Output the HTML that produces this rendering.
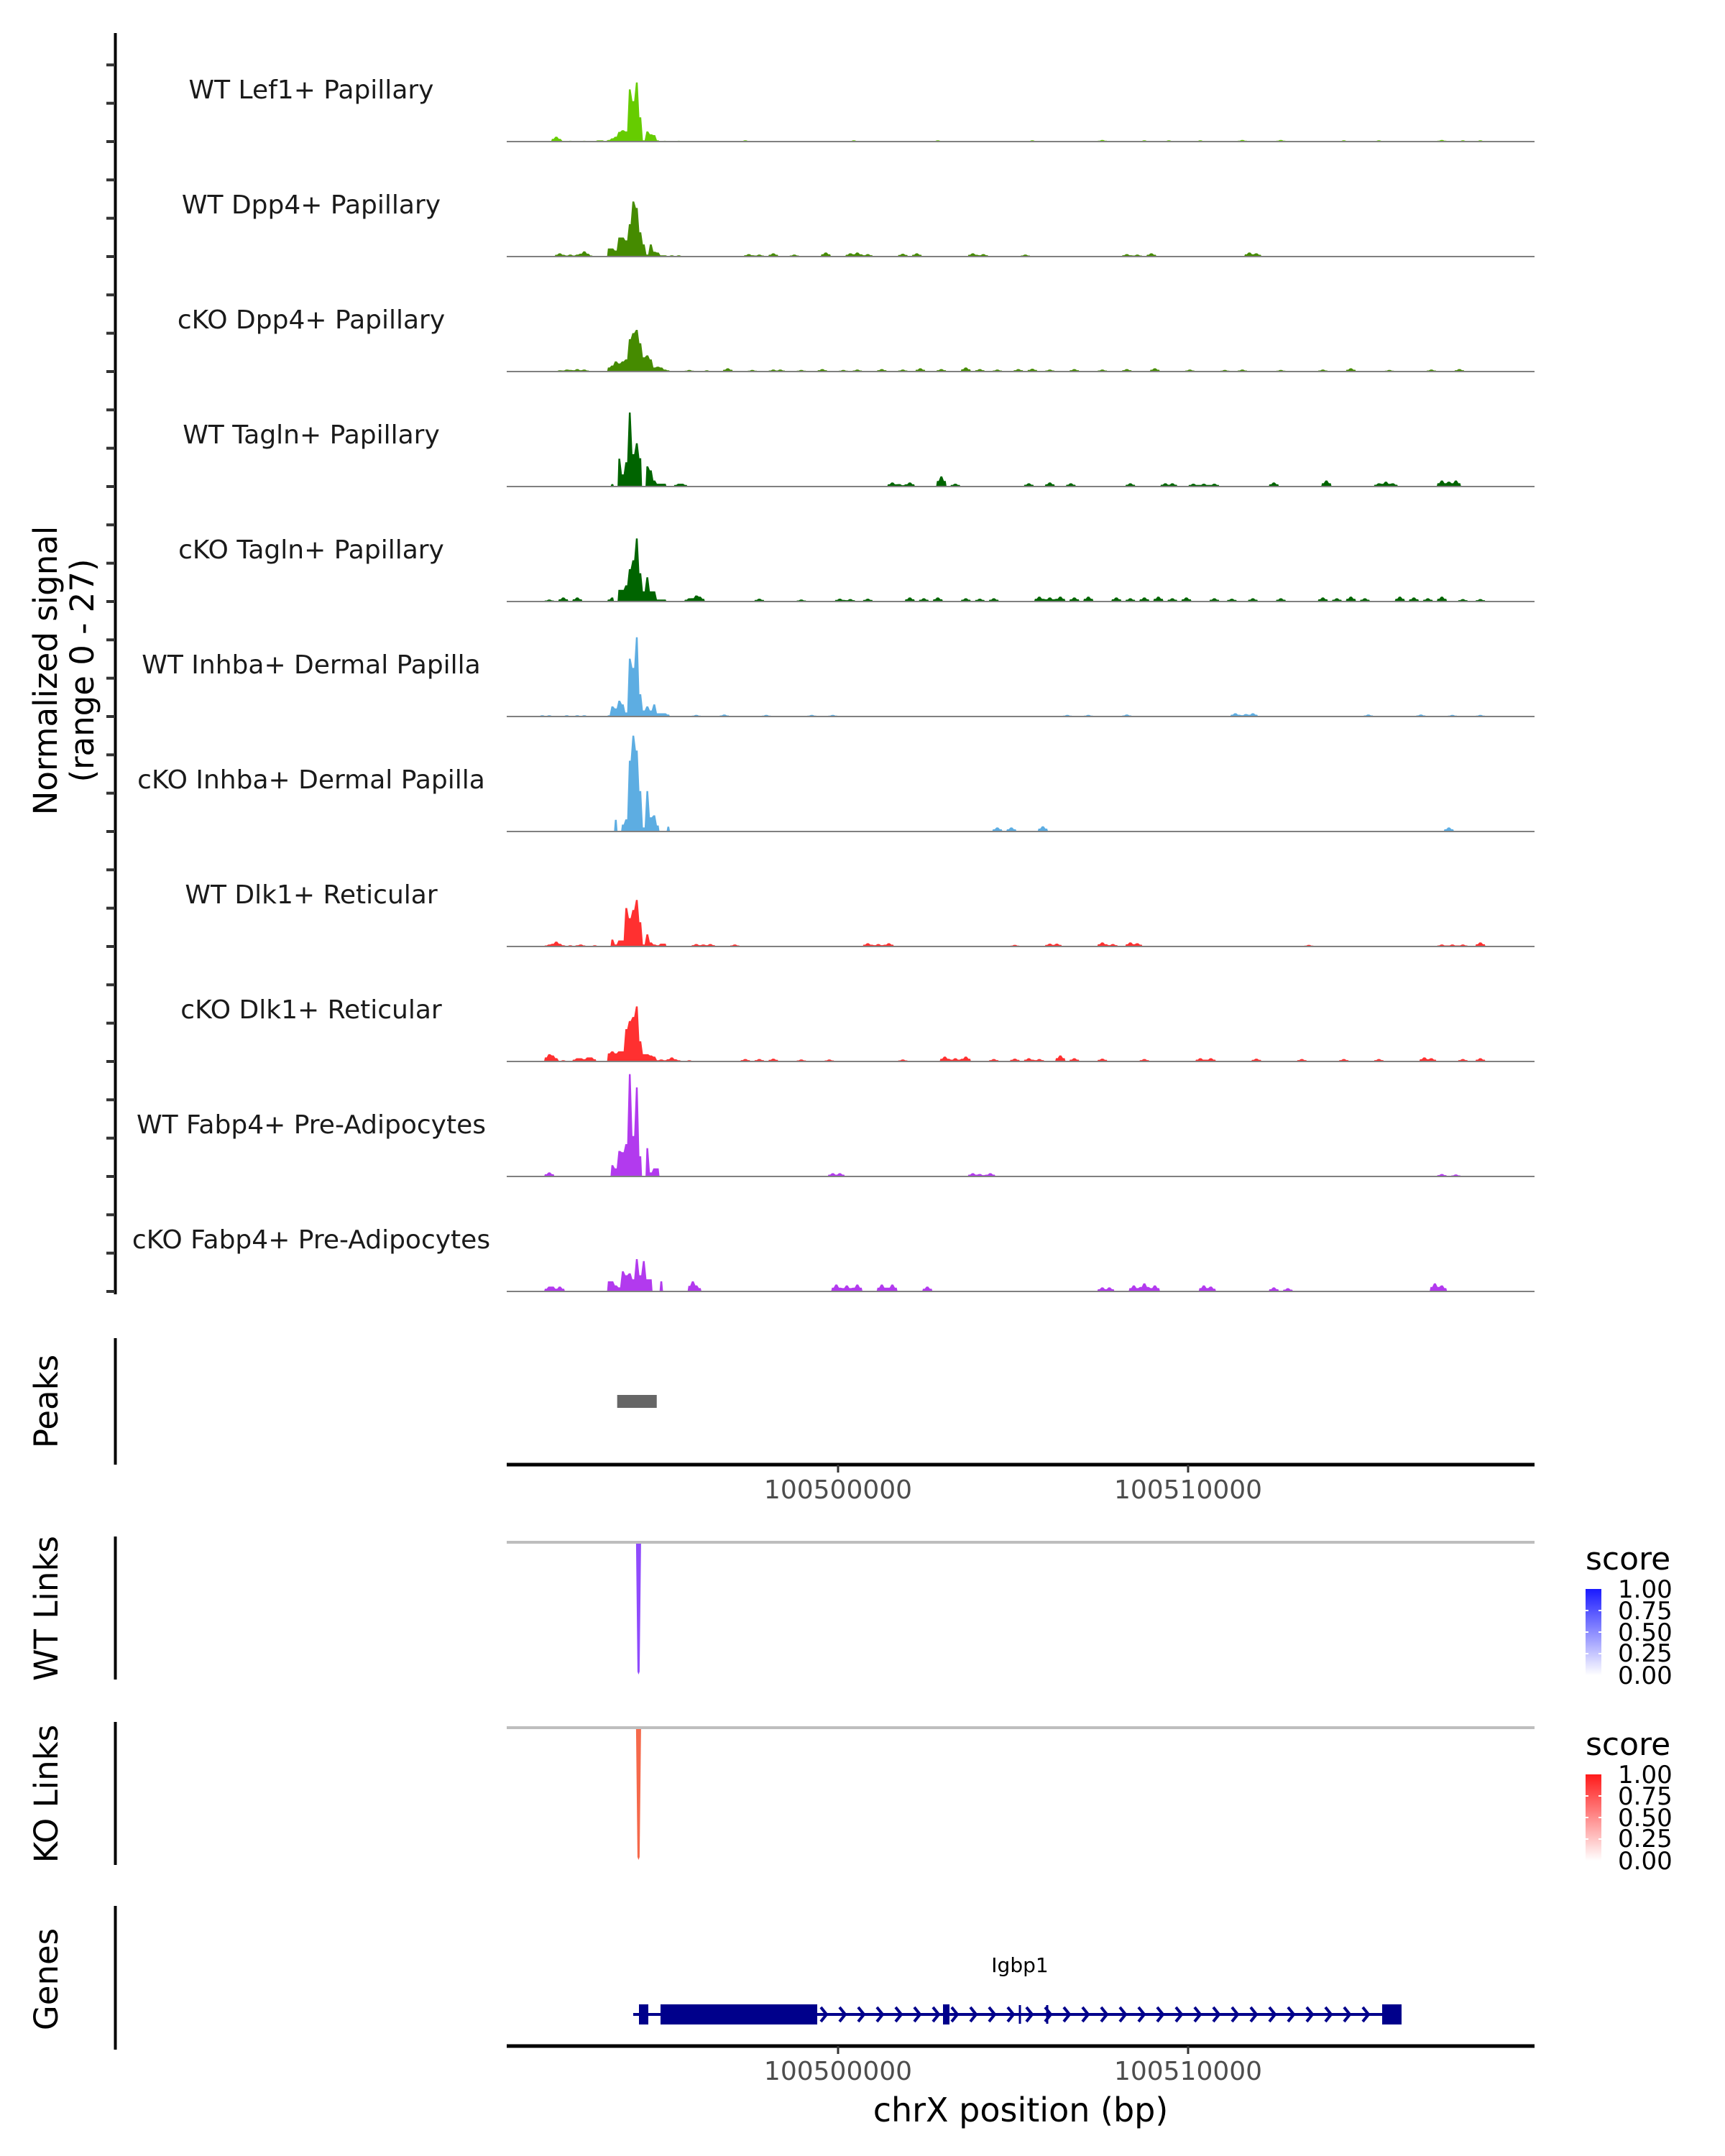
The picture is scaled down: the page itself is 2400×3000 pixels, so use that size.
<!DOCTYPE html>
<html><head><meta charset="utf-8">
<style>
html,body{margin:0;padding:0;background:#fff;}
svg{display:block;font-family:"DejaVu Sans","Liberation Sans",sans-serif;}
</style></head>
<body>
<svg id="fig" width="2400" height="3000" viewBox="0 0 2400 3000" xmlns="http://www.w3.org/2000/svg">
<rect x="0" y="0" width="2400" height="3000" fill="#fff"/>
<g id="tracks"></g>
<g id="static">
  <line x1="160.5" y1="46" x2="160.5" y2="1801" stroke="#000" stroke-width="4"/>
  <text transform="translate(79,933) rotate(-90)" text-anchor="middle" font-size="45">Normalized signal</text>
  <text transform="translate(130,933) rotate(-90)" text-anchor="middle" font-size="45">(range 0 - 27)</text>

  <line x1="160.5" y1="1862" x2="160.5" y2="2038" stroke="#000" stroke-width="4"/>
  <text transform="translate(80,1950) rotate(-90)" text-anchor="middle" font-size="45">Peaks</text>
  <line x1="160.5" y1="2138" x2="160.5" y2="2337" stroke="#000" stroke-width="4"/>
  <text transform="translate(80,2238) rotate(-90)" text-anchor="middle" font-size="45">WT Links</text>
  <line x1="160.5" y1="2396" x2="160.5" y2="2595" stroke="#000" stroke-width="4"/>
  <text transform="translate(80,2496) rotate(-90)" text-anchor="middle" font-size="45">KO Links</text>
  <line x1="160.5" y1="2652" x2="160.5" y2="2852" stroke="#000" stroke-width="4"/>
  <text transform="translate(80,2754) rotate(-90)" text-anchor="middle" font-size="45">Genes</text>

  <line x1="705" y1="2038" x2="2135" y2="2038" stroke="#000" stroke-width="5"/>
  <line x1="705" y1="2146" x2="2135" y2="2146" stroke="#bebebe" stroke-width="4"/>
  <line x1="705" y1="2404" x2="2135" y2="2404" stroke="#bebebe" stroke-width="4"/>
  <line x1="705" y1="2847" x2="2135" y2="2847" stroke="#000" stroke-width="5"/>
  <text x="1420" y="2952" text-anchor="middle" font-size="46">chrX position (bp)</text>

  <defs>
    <linearGradient id="gBlue" x1="0" y1="1" x2="0" y2="0">
      <stop offset="0" stop-color="#ffffff"/><stop offset="1" stop-color="#1a1aff"/>
    </linearGradient>
    <linearGradient id="gRed" x1="0" y1="1" x2="0" y2="0">
      <stop offset="0" stop-color="#ffffff"/><stop offset="1" stop-color="#ff1a1a"/>
    </linearGradient>
  </defs>
  <g>
    <text x="2206" y="2184" font-size="44">score</text>
    <rect x="2206" y="2211" width="22" height="120" fill="url(#gBlue)"/>
    <g stroke="#fff" stroke-width="2">
      <line x1="2206" y1="2241" x2="2210" y2="2241"/><line x1="2224" y1="2241" x2="2228" y2="2241"/>
      <line x1="2206" y1="2271" x2="2210" y2="2271"/><line x1="2224" y1="2271" x2="2228" y2="2271"/>
      <line x1="2206" y1="2301" x2="2210" y2="2301"/><line x1="2224" y1="2301" x2="2228" y2="2301"/>
    </g>
    <g font-size="34" fill="#000">
      <text x="2251" y="2223">1.00</text>
      <text x="2251" y="2253">0.75</text>
      <text x="2251" y="2283">0.50</text>
      <text x="2251" y="2312">0.25</text>
      <text x="2251" y="2343">0.00</text>
    </g>
  </g>
  <g>
    <text x="2206" y="2442" font-size="44">score</text>
    <rect x="2206" y="2469" width="22" height="120" fill="url(#gRed)"/>
    <g stroke="#fff" stroke-width="2">
      <line x1="2206" y1="2499" x2="2210" y2="2499"/><line x1="2224" y1="2499" x2="2228" y2="2499"/>
      <line x1="2206" y1="2529" x2="2210" y2="2529"/><line x1="2224" y1="2529" x2="2228" y2="2529"/>
      <line x1="2206" y1="2559" x2="2210" y2="2559"/><line x1="2224" y1="2559" x2="2228" y2="2559"/>
    </g>
    <g font-size="34" fill="#000">
      <text x="2251" y="2481">1.00</text>
      <text x="2251" y="2511">0.75</text>
      <text x="2251" y="2541">0.50</text>
      <text x="2251" y="2570">0.25</text>
      <text x="2251" y="2601">0.00</text>
    </g>
  </g>
  <text x="1419" y="2744" text-anchor="middle" font-size="28">Igbp1</text>
</g>
<g id="dyn"></g>
</svg>
<script>
// ---- genomic axis ----
const xDomainStart = 100490534;
const xDomainEnd = 100519897;
const xTickValues = [100500000, 100510000];
const xTickLabels = ["100500000", "100510000"];
const binStart = 100490500;
const binSize = 100;
const mainStartBin = 29;
const signalMax = 27;

// ---- coverage data (signal units; main peak profile from mainStartBin, plus sparse small peaks) ----
const lef1WTMain = [0.4,0.8,1.2,2.4,2.8,2.5,12.9,10,14.6,6,0.3,2.5,1.8,1.6,0.3,0,0.2,0];
const lef1WTBins = [14,15,18,22,26,27,49,68,99,123,150,170,182,189,198,210,221,239,249,267,273,278];
const lef1WTVals = [1.2,0.3,0.2,0.2,0.3,0.3,0.2,0.3,0.3,0.3,0.3,0.4,0.3,0.3,0.3,0.4,0.4,0.3,0.3,0.4,0.3,0.3];

const dpp4WTMain = [2,2,1.5,4.7,4.7,4,8,13.6,12,6,3,0.5,3,1.2,1,0.3,0.3,0];
const dpp4WTBins = [15,16,18,20,22,23,47,49,69,72,76,82,91,98,100,103,113,117,133,136,148,177,180,184,212,214];
const dpp4WTVals = [0.8,0.4,0.5,0.5,1.3,0.5,0.3,0.3,0.6,0.5,0.8,0.5,1,0.8,1,0.6,0.7,0.8,0.8,0.6,0.5,0.6,0.5,0.8,1,0.8];

const dpp4KOMain = [1,1.5,2.5,2,2.5,3,8,9.5,10.3,7,3.5,4,3,1,1.2,1,0.5,0.3];
const dpp4KOBins = [15,17,18,20,22,52,57,63,70,76,78,84,90,96,100,107,113,118,124,131,135,140,146,150,155,162,170,177,185,195,205,210,221,233,241,252,264,272];
const dpp4KOVals = [0.3,0.5,0.4,0.6,0.5,0.4,0.3,0.8,0.4,0.5,0.5,0.4,0.6,0.4,0.5,0.6,0.5,0.8,0.6,1,0.6,0.5,0.6,0.7,0.5,0.6,0.5,0.6,0.8,0.5,0.4,0.5,0.4,0.5,0.8,0.4,0.5,0.6];

const taglnWTMain = [0,0.6,0,6.9,3,6,18.3,8,10.7,7,0,5,4,1.5,0.7,0.7,0.7,0];
const taglnWTBins = [49,50,110,112,115,124,128,149,155,161,178,188,190,196,199,202,219,234,249,251,253,267,269,271];
const taglnWTVals = [0.7,0.7,1,0.6,1,2.5,0.7,0.8,1,0.8,0.8,0.8,0.8,0.7,0.7,0.7,1,1.5,0.8,1.2,0.8,1.5,1.2,1.5];

const taglnKOMain = [0.5,1,0,2.9,2.9,4,8,10.2,15.6,7,2.5,6,2.5,2.5,0.5,0.5,0.5,0];
const taglnKOBins = [12,16,20,52,54,55,72,84,95,98,103,115,119,123,131,135,139,152,155,158,162,166,174,178,182,186,190,194,202,207,213,221,233,237,241,245,255,259,263,267,273,278];
const taglnKOVals = [0.5,1,1,0.8,1.5,1.2,0.7,0.5,0.7,0.6,0.7,1,0.8,1,0.8,0.7,0.8,1.2,1,1.2,1,1.2,1,0.8,1,1.2,0.8,1,0.8,0.7,0.8,0.8,1,0.8,1.2,0.8,1.2,1,0.8,1.2,0.6,0.6];

const inhbaWTMain = [0.3,2.5,2,3.9,3,1,14.3,12,19.6,5.5,1.5,2.5,1.5,3,0.8,0.8,0.8,0.5];
const inhbaWTBins = [10,12,17,20,22,54,62,74,87,93,160,166,177,208,211,213,246,261,270,278];
const inhbaWTVals = [0.3,0.3,0.3,0.3,0.3,0.4,0.5,0.4,0.4,0.4,0.4,0.4,0.5,0.8,0.6,0.8,0.5,0.5,0.4,0.4];

const inhbaKOMain = [0,0,2.9,0,1.7,3,17.5,23.7,20,10,1,10,3.5,4,1.5,0,0,1.2];
const inhbaKOBins = [140,144,153,269];
const inhbaKOVals = [1,1,1.3,1];

const dlk1WTMain = [0,1.7,0.5,1.5,1.5,9.5,7,9,11.5,6,0.5,3,1,0.5,0.3,0.7,0.7,0];
const dlk1WTBins = [12,14,16,18,20,21,25,54,56,58,65,103,106,109,145,155,157,170,173,178,180,229,267,270,273,278];
const dlk1WTVals = [0.5,1.2,0.3,0.3,0.3,0.5,0.3,0.6,0.5,0.6,0.5,0.8,0.6,0.8,0.4,0.7,0.7,1,0.6,1,0.8,0.4,0.5,0.5,0.5,1];

const dlk1KOMain = [2,2.5,2,2.5,2.5,8,10,11,13.6,5,1.8,1.8,1.5,1.2,0.3,0.5,0.3,0.3];
const dlk1KOBins = [12,13,16,20,21,23,24,47,49,52,68,72,76,84,92,113,125,128,131,139,145,149,152,158,162,170,182,198,201,214,227,239,249,262,264,273,278];
const dlk1KOVals = [1.8,1.5,0.3,0.8,0.8,1,1,1,0.3,0.3,0.6,0.6,0.7,0.5,0.5,0.5,1.2,0.8,1.2,0.6,0.7,0.8,0.6,1.5,0.8,0.7,0.6,0.8,0.8,0.7,0.6,0.6,0.6,1,0.8,0.6,0.8];

const fabp4WTMain = [0,2.8,2,6.3,6,8,25.3,10,22,5,0,7,1,2,2,0,0,0];
const fabp4WTBins = [12,93,95,133,135,138,267,271];
const fabp4WTVals = [1,0.8,0.8,0.8,0.6,0.8,0.6,0.5];

const fabp4KOMain = [2.5,2.5,1.5,1,5,4,4.5,3,8,4,7.5,3,3,0,0,2.5,0,0];
const fabp4KOBins = [12,13,15,53,54,94,97,100,107,110,120,170,172,179,182,185,199,201,219,223,265,267];
const fabp4KOVals = [1.2,1.2,1.2,2.5,1.5,1.7,1.5,1.7,1.7,1.7,1.2,1,1,1.5,2,1.5,1.5,1.2,1,0.8,2,1.5];

const trackNames = ["WT Lef1+ Papillary","WT Dpp4+ Papillary","cKO Dpp4+ Papillary","WT Tagln+ Papillary","cKO Tagln+ Papillary","WT Inhba+ Dermal Papilla","cKO Inhba+ Dermal Papilla","WT Dlk1+ Reticular","cKO Dlk1+ Reticular","WT Fabp4+ Pre-Adipocytes","cKO Fabp4+ Pre-Adipocytes"];
const trackMains = [lef1WTMain,dpp4WTMain,dpp4KOMain,taglnWTMain,taglnKOMain,inhbaWTMain,inhbaKOMain,dlk1WTMain,dlk1KOMain,fabp4WTMain,fabp4KOMain];
const trackBins = [lef1WTBins,dpp4WTBins,dpp4KOBins,taglnWTBins,taglnKOBins,inhbaWTBins,inhbaKOBins,dlk1WTBins,dlk1KOBins,fabp4WTBins,fabp4KOBins];
const trackVals = [lef1WTVals,dpp4WTVals,dpp4KOVals,taglnWTVals,taglnKOVals,inhbaWTVals,inhbaKOVals,dlk1WTVals,dlk1KOVals,fabp4WTVals,fabp4KOVals];
const trackColors = ["#66cc00","#458b00","#458b00","#006400","#006400","#5dade2","#5dade2","#ff3030","#ff3030","#b23aee","#b23aee"];

// ---- peaks, links, gene ----
const peakStarts = [100493690];
const peakEnds = [100494820];
const wtLinkPos = [100494300];
const wtLinkScore = [0.75];
const koLinkPos = [100494300];
const koLinkScore = [0.6];
const geneStart = 100494148;
const geneEnd = 100516098;
const exonStarts = [100494312,100494928,100502998,100515544];
const exonEnds = [100494579,100499405,100503183,100516098];
const smallMarks = [100505195,100505975];

// ---- layout ----
const X0 = 705, X1 = 2135;
const firstBase = 197, trackStep = 160, panelH = 152;
function xScale(bp){ return X0 + (bp - xDomainStart) / (xDomainEnd - xDomainStart) * (X1 - X0); }
function yScale(v, base){ return base - v / signalMax * panelH; }
function binX(k){ return xScale(binStart + k * binSize); }

const NS = "http://www.w3.org/2000/svg";
const tracksG = document.getElementById("tracks");
const dyn = document.getElementById("dyn");
function mk(tag, attrs, parent){
  const e = document.createElementNS(NS, tag);
  for (const k in attrs) e.setAttribute(k, attrs[k]);
  (parent || dyn).appendChild(e);
  return e;
}

// left axis ticks
for (let t = 0; t < 33; t++) {
  const y = firstBase - trackStep * 2 / 3 + t * trackStep / 3;
  const tk = mk("line", {x1:148, y1:y, x2:160, y2:y, stroke:"#333", "stroke-width":4});
  
  
}

const nBins = 300;
for (let i = 0; i < trackNames.length; i++) {
  const base = firstBase + i * trackStep;
  const g = mk("g", {}, tracksG);
  
  
  const arr = new Array(nBins).fill(0);
  trackMains[i].forEach((v, j) => { arr[mainStartBin + j] = Math.max(arr[mainStartBin + j], v); });
  // small peaks spread over neighbouring bins (smoothed bumps)
  trackBins[i].forEach((k, j) => {
    const v = trackVals[i][j];
    arr[k] = Math.max(arr[k], v);
    if (k - 1 >= 0) arr[k - 1] = Math.max(arr[k - 1], v * 0.55);
    if (k + 1 < nBins) arr[k + 1] = Math.max(arr[k + 1], v * 0.55);
  });
  let d = "";
  let k = 0;
  while (k < nBins) {
    if (arr[k] > 0) {
      let s = k;
      while (k < nBins && arr[k] > 0) k++;
      d += "M" + binX(s).toFixed(1) + "," + base;
      for (let q = s; q < k; q++) {
        d += "L" + binX(q + 0.25).toFixed(1) + "," + yScale(arr[q], base).toFixed(1);
        d += "L" + binX(q + 0.75).toFixed(1) + "," + yScale(arr[q], base).toFixed(1);
      }
      d += "L" + binX(k).toFixed(1) + "," + base + "Z";
    } else k++;
  }
  const area = mk("path", {d:d, fill:trackColors[i], stroke:"none"}, g);
  
  
  const bl = mk("line", {x1:X0, y1:base, x2:X1, y2:base, stroke:"#808080", "stroke-width":2}, g);
  
  
  const lab = mk("text", {x:433, y:base - 60, "text-anchor":"middle", "font-size":"36", fill:"#1a1a1a"}, g);
  
  
  lab.textContent = trackNames[i];
}

// peaks
peakStarts.forEach((s, i) => {
  const r = mk("rect", {x:xScale(s), y:1941, width:xScale(peakEnds[i]) - xScale(s), height:18, fill:"#666"});
  
  
});

// x ticks on both axes
[2038, 2847].forEach((ay, ai) => {
  xTickValues.forEach((v, i) => {
    const x = xScale(v);
    const t = mk("line", {x1:x, y1:ay, x2:x, y2:ay + 11, stroke:"#333", "stroke-width":3});
    
    
    const tl = mk("text", {x:x, y:ay + 47, "text-anchor":"middle", "font-size":"36", fill:"#4d4d4d"});
    
    
    tl.textContent = xTickLabels[i];
  });
});

// links
function linkColorWT(score){ return "rgb(" + Math.round(255 - 150 * score) + "," + Math.round(255 - 240 * score) + ",252)"; }
function linkColorKO(score){ return "rgb(245," + Math.round(255 - 250 * score) + "," + Math.round(255 - 300 * score) + ")"; }
wtLinkPos.forEach((p, i) => {
  const x = xScale(p);
  const l = mk("path", {d:"M" + (x - 3.5) + ",2148 L" + (x + 3.5) + ",2148 L" + (x + 1.5) + ",2326 L" + x + ",2330 L" + (x - 1.5) + ",2326 Z", fill:linkColorWT(wtLinkScore[i])});
  
  
});
koLinkPos.forEach((p, i) => {
  const x = xScale(p);
  const l = mk("path", {d:"M" + (x - 3.5) + ",2406 L" + (x + 3.5) + ",2406 L" + (x + 1.5) + ",2584 L" + x + ",2588 L" + (x - 1.5) + ",2584 Z", fill:linkColorKO(koLinkScore[i])});
  
  
});

// gene model
const gy = 2803, gcol = "#00008b";
const gl = mk("line", {x1:xScale(geneStart), y1:gy, x2:xScale(geneEnd), y2:gy, stroke:gcol, "stroke-width":4});


for (let x = xScale(geneStart) + 5; x < xScale(geneEnd) - 8; x += 26) {
  let inExon = false;
  exonStarts.forEach((s, i) => { if (x > xScale(s) - 8 && x < xScale(exonEnds[i]) + 4) inExon = true; });
  if (inExon) continue;
  const c = mk("path", {d:"M" + (x - 4) + "," + (gy - 10) + " L" + (x + 4) + "," + gy + " L" + (x - 4) + "," + (gy + 10), stroke:gcol, "stroke-width":4, fill:"none"});
  
  
}
exonStarts.forEach((s, i) => {
  const r = mk("rect", {x:xScale(s), y:gy - 14, width:Math.max(4, xScale(exonEnds[i]) - xScale(s)), height:28, fill:gcol});
  
  
});
smallMarks.forEach(p => {
  const x = xScale(p);
  const m = mk("line", {x1:x, y1:gy - 13, x2:x, y2:gy + 13, stroke:gcol, "stroke-width":3});
  
  
});
</script>
</body></html>
